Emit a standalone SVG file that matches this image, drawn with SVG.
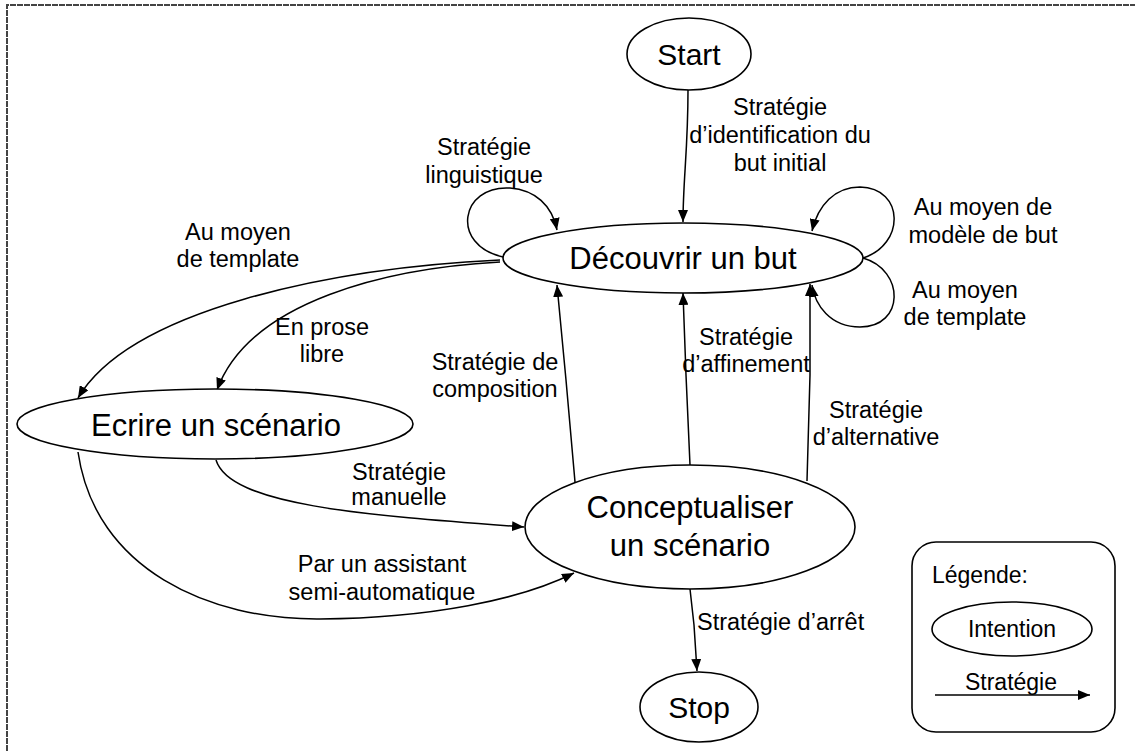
<svg xmlns="http://www.w3.org/2000/svg" width="1135" height="751" viewBox="0 0 1135 751">
<defs>
<marker id="arr" markerWidth="12" markerHeight="10" refX="12" refY="5" orient="auto" markerUnits="userSpaceOnUse">
<path d="M0,0 L12,5 L0,10 z" fill="#000"/>
</marker>
<style>
.n{fill:#fff;stroke:#000;stroke-width:1.6}
.c{fill:none;stroke:#000;stroke-width:1.5;marker-end:url(#arr)}
.t{font-family:"Liberation Sans",Arial,sans-serif;fill:#000}
.big{font-size:31px;text-anchor:middle}
.lab{font-size:23.5px;text-anchor:middle}
.frame{stroke:#444;stroke-width:2;stroke-dasharray:6 1;fill:none}
</style>
</defs>
<rect width="1135" height="751" fill="#fff"/>
<path class="frame" d="M7,751 L7,5 L1135,5"/>

<g id="connectors">
<path class="c" d="M688,90 C688,150 683,180 683,222"/>
<path class="c" d="M503,257 C450,245 460,185 510,188 C535,190 552,205 557,230"/>
<path class="c" d="M863,258 C905,245 905,188 860,187 C835,187 818,205 812,231"/>
<path class="c" d="M863,258 C905,270 905,327 860,327 C830,327 815,305 812,285"/>
<path class="c" d="M500,260 C330,268 130,310 78,398"/>
<path class="c" d="M500,262 C390,268 250,300 217,390"/>
<path class="c" d="M216,460 C230,505 360,515 524,527"/>
<path class="c" d="M78,452 C95,570 210,620 320,619 C430,618 520,600 574,573"/>
<path class="c" d="M575,482 L566,380 L557,285"/>
<path class="c" d="M690,465 L686,375 L683,293"/>
<path class="c" d="M807,481 L810,375 L810,284"/>
<path class="c" d="M690,589 L694,625 L697,671"/>
</g>

<g id="labels" class="t lab">
<text x="780" y="115">Stratégie</text>
<text x="780" y="143">d’identification du</text>
<text x="780" y="171">but initial</text>
<text x="484" y="155">Stratégie</text>
<text x="484" y="183">linguistique</text>
<text x="238" y="240">Au moyen</text>
<text x="238" y="267">de template</text>
<text x="983" y="215">Au moyen de</text>
<text x="983" y="243">modèle de but</text>
<text x="965" y="298">Au moyen</text>
<text x="965" y="325">de template</text>
<text x="322" y="335">En prose</text>
<text x="322" y="362">libre</text>
<text x="495" y="370">Stratégie de</text>
<text x="495" y="397">composition</text>
<text x="746" y="345">Stratégie</text>
<text x="746" y="372">d’affinement</text>
<text x="876" y="418">Stratégie</text>
<text x="876" y="445">d’alternative</text>
<text x="399" y="480">Stratégie</text>
<text x="399" y="505">manuelle</text>
<text x="382" y="572">Par un assistant</text>
<text x="382" y="600">semi-automatique</text>
<text x="697" y="630" style="text-anchor:start">Stratégie d’arrêt</text>
</g>

<g id="start">
<ellipse class="n" cx="689" cy="54" rx="62" ry="36"/>
<text class="t big" x="689" y="65" style="font-size:30px">Start</text>
</g>
<g id="decouvrir">
<ellipse class="n" cx="683" cy="258" rx="180" ry="35"/>
<text class="t big" x="683" y="269">Découvrir un but</text>
</g>
<g id="ecrire">
<ellipse class="n" cx="215" cy="424" rx="198" ry="35"/>
<text class="t big" x="216" y="436">Ecrire un scénario</text>
</g>
<g id="conceptualiser">
<ellipse class="n" cx="690" cy="527" rx="165" ry="62"/>
<text class="t big" x="690" y="518">Conceptualiser</text>
<text class="t big" x="690" y="556">un scénario</text>
</g>
<g id="stop">
<ellipse class="n" cx="699" cy="707" rx="59" ry="35"/>
<text class="t big" x="699" y="718" style="font-size:30px">Stop</text>
</g>
<g id="legend">
<rect class="n" x="912" y="542" width="203" height="190" rx="24"/>
<text class="t" x="932" y="583" style="font-size:23px">Légende:</text>
<ellipse class="n" cx="1012" cy="629" rx="80" ry="27"/>
<text class="t" x="1012" y="637" style="font-size:23px;text-anchor:middle">Intention</text>
<text class="t" x="1011" y="690" style="font-size:23px;text-anchor:middle">Stratégie</text>
<path class="c" d="M935,695 L1090,695"/>
</g>
</svg>
